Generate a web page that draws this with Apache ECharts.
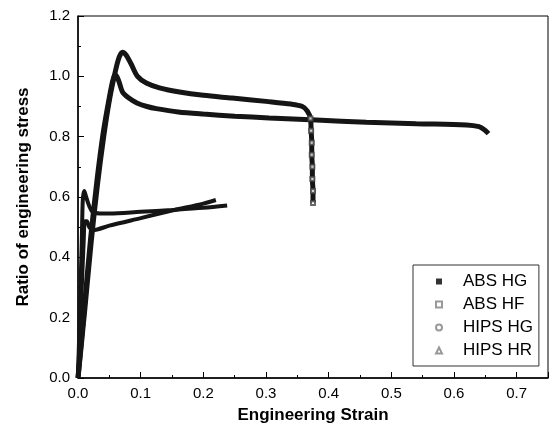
<!DOCTYPE html>
<html>
<head>
<meta charset="utf-8">
<script src="https://cdn.jsdelivr.net/npm/echarts@6/dist/echarts.min.js"></script>
<style>
  html, body { margin: 0; padding: 0; background: #fff; }
  #main { width: 555px; height: 431px; }
</style>
</head>
<body>
<div id="main"></div>
<script>
// [strain, ratio of engineering stress]
var absHG = [[0, 0], [0.01, 0.23], [0.02, 0.46], [0.03, 0.65], [0.04, 0.81], [0.05, 0.93], [0.056, 0.99], [0.06, 1.005],
    [0.065, 0.985], [0.071, 0.948], [0.08, 0.93], [0.094, 0.912], [0.11, 0.9], [0.125, 0.893], [0.16, 0.882],
    [0.2, 0.875], [0.25, 0.868], [0.305, 0.862], [0.38, 0.855], [0.46, 0.848], [0.54, 0.843], [0.62, 0.839],
    [0.64, 0.833], [0.649, 0.822], [0.655, 0.81]];
var absHF = [[0, 0], [0.011, 0.23], [0.021, 0.45], [0.031, 0.64], [0.041, 0.8], [0.05, 0.92], [0.06, 1.02], [0.066, 1.065],
    [0.071, 1.08], [0.077, 1.07], [0.085, 1.04], [0.095, 1.0], [0.109, 0.978], [0.13, 0.962], [0.162, 0.948],
    [0.2, 0.937], [0.246, 0.928], [0.3, 0.917], [0.34, 0.908], [0.358, 0.9], [0.366, 0.885], [0.371, 0.86],
    [0.372, 0.82], [0.373, 0.78], [0.373, 0.74], [0.374, 0.7], [0.374, 0.66], [0.375, 0.62], [0.375, 0.58]];
var hipsHG = [[0, 0], [0.002, 0.15], [0.004, 0.3], [0.006, 0.45], [0.007, 0.55], [0.008, 0.6], [0.01, 0.62],
    [0.013, 0.6], [0.018, 0.57], [0.025, 0.548], [0.05, 0.545], [0.1, 0.551], [0.15, 0.557], [0.2, 0.564], [0.238, 0.572]];
var hipsHR = [[0, 0], [0.003, 0.15], [0.006, 0.3], [0.009, 0.45], [0.011, 0.52], [0.014, 0.52], [0.018, 0.5],
    [0.024, 0.49], [0.05, 0.505], [0.1, 0.53], [0.15, 0.555], [0.2, 0.578], [0.22, 0.59]];
var names = ['ABS HG', 'ABS HF', 'HIPS HG', 'HIPS HR'];
var icons = ['rect', 'emptyRect', 'emptyCircle', 'emptyTriangle'];

var chart = echarts.init(document.getElementById('main'));
var font = 'Liberation Sans, Arial, sans-serif';

function curve(name, data, width) {
    return {
        name: name,
        type: 'line',
        data: data,
        smooth: 0.3,
        symbol: 'none',
        lineStyle: { color: '#151515', width: width },
        emphasis: { disabled: true },
        z: 3
    };
}

// hollow squares are only visible where ABS HF breaks and drops
var hfBreak = absHF.map(function(p) {
    return p[0] > 0.37 ? p : null;
}).filter(function(p) { return p; });

var option = {
    animation: false,
    grid: { left: 78, top: 16, right: 7, bottom: 53, show: true, borderColor: '#000', borderWidth: 1 },
    legend: {
        orient: 'vertical',
        left: 413,
        top: 265,
        padding: [8, 6, 7, 22],
        itemGap: 6,
        itemWidth: 6,
        itemHeight: 6,
        borderColor: '#333',
        borderWidth: 1,
        data: names.map(function(n, i) {
            return { name: n, icon: icons[i], itemStyle: { color: i === 0 ? '#333' : '#999' } };
        }),
        textStyle: { fontFamily: font, fontSize: 17, color: '#000', padding: [0, 0, 0, 16] }
    },
    xAxis: {
        type: 'value',
        min: 0,
        max: 0.75,
        interval: 0.1,
        name: 'Engineering Strain',
        nameLocation: 'middle',
        nameGap: 29,
        nameTextStyle: { fontFamily: font, fontSize: 17, fontWeight: 'bold', color: '#000' },
        axisLine: { lineStyle: { color: '#000', width: 1.5 } },
        axisTick: { inside: true, length: 6, lineStyle: { color: '#000' } },
        minorTick: { show: true, splitNumber: 2, length: 3, lineStyle: { color: '#000' } },
        splitLine: { show: false },
        axisLabel: { fontFamily: font, fontSize: 15, color: '#000', margin: 8,
            formatter: function(v) { return v > 0.74 ? '' : v.toFixed(1); } }
    },
    yAxis: {
        type: 'value',
        min: 0,
        max: 1.2,
        interval: 0.2,
        name: 'Ratio of engineering stress',
        nameLocation: 'middle',
        nameGap: 46,
        nameTextStyle: { fontFamily: font, fontSize: 17, fontWeight: 'bold', color: '#000' },
        axisLine: { lineStyle: { color: '#000', width: 1.5 } },
        axisTick: { inside: true, length: 6, lineStyle: { color: '#000' } },
        minorTick: { show: true, splitNumber: 2, length: 3, lineStyle: { color: '#000' } },
        splitLine: { show: false },
        axisLabel: { fontFamily: font, fontSize: 15, color: '#000', margin: 8,
            formatter: function(v) { return v.toFixed(1); } }
    },
    series: [
        curve(names[0], absHG, 5),
        curve(names[1], absHF, 5),
        curve(names[2], hipsHG, 4),
        curve(names[3], hipsHR, 4),
        {
            type: 'scatter',
            data: hfBreak,
            symbol: 'emptyRect',
            symbolSize: 4,
            itemStyle: { color: '#444', borderWidth: 1 },
            emphasis: { disabled: true },
            z: 4
        }
    ]
};
chart.setOption(option);
</script>
</body>
</html>
